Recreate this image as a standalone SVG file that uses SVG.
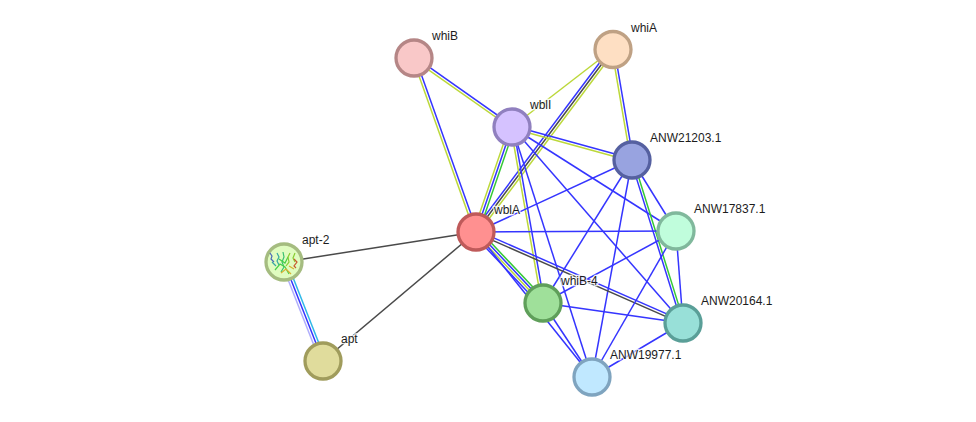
<svg xmlns="http://www.w3.org/2000/svg" width="976" height="422" viewBox="0 0 976 422">
<style>
  line { fill: none; stroke-width: 1.5; }
  .b { stroke: #3535ff; }
  .y { stroke: #bcd83a; }
  .g { stroke: #35c835; }
  .d { stroke: #4a4a4a; }
  .l { stroke: #b0aefc; }
  .c { stroke: #30b8e8; }
  .node { stroke-width: 3.3; }
  text { font-family: "Liberation Sans", Arial, sans-serif; font-size: 12px; fill: #1c1c1c; stroke: #ffffff; stroke-opacity: .8; stroke-width: 2.5px; paint-order: stroke; }
  .art { fill: none; stroke-width: 1.2; }
</style>
<rect width="976" height="422" fill="#ffffff"/>
<g id="connectors">
  <!-- whiB -->
  <line class="b" x1="414.75" y1="56.94" x2="512.75" y2="125.94"/>
  <line class="y" x1="413.25" y1="59.06" x2="511.25" y2="128.06"/>
  <line class="b" x1="415.22" y1="57.56" x2="477.22" y2="231.56"/>
  <line class="y" x1="412.78" y1="58.44" x2="474.78" y2="232.44"/>
  <!-- whiA -->
  <line class="y" x1="613" y1="49" x2="512" y2="127"/>
  <line class="b" x1="611" y1="47.5" x2="474" y2="230.5"/>
  <line class="d" x1="613" y1="49" x2="476" y2="232"/>
  <line class="y" x1="615" y1="50.5" x2="478" y2="233.5"/>
  <line class="b" x1="614.28" y1="48.78" x2="633.28" y2="159.78"/>
  <line class="y" x1="611.72" y1="49.22" x2="630.72" y2="160.22"/>
  <!-- wblI -->
  <line class="b" x1="512.34" y1="125.75" x2="632.34" y2="158.75"/>
  <line class="y" x1="511.66" y1="128.25" x2="631.66" y2="161.25"/>
  <line class="y" x1="509.5" y1="126.16" x2="473.5" y2="231.16"/>
  <line class="b" x1="512" y1="127" x2="476" y2="232"/>
  <line class="g" x1="514.5" y1="127.84" x2="478.5" y2="232.84"/>
  <line class="y" x1="510.72" y1="127.22" x2="541.72" y2="303.22"/>
  <line class="b" x1="513.28" y1="126.78" x2="544.28" y2="302.78"/>
  <line class="b" x1="512" y1="127" x2="592" y2="377"/>
  <line class="b" x1="512" y1="127" x2="676" y2="231"/>
  <line class="b" x1="512" y1="127" x2="683" y2="323"/>
  <!-- ANW21203.1 -->
  <line class="b" x1="632" y1="160" x2="476" y2="232"/>
  <line class="b" x1="632" y1="160" x2="676" y2="231"/>
  <line class="b" x1="630.85" y1="160.36" x2="681.85" y2="323.36"/>
  <line class="g" x1="633.15" y1="159.64" x2="684.15" y2="322.64"/>
  <line class="b" x1="632" y1="160" x2="543" y2="303"/>
  <line class="b" x1="632" y1="160" x2="592" y2="377"/>
  <!-- wblA -->
  <line class="b" x1="476" y1="232" x2="676" y2="231"/>
  <line class="g" x1="478.6" y1="229.53" x2="545.6" y2="300.53"/>
  <line class="b" x1="476.87" y1="231.18" x2="543.87" y2="302.18"/>
  <line class="y" x1="475.13" y1="232.82" x2="542.13" y2="303.82"/>
  <line class="b" x1="473.4" y1="234.47" x2="540.4" y2="305.47"/>
  <line class="b" x1="476" y1="232" x2="592" y2="377"/>
  <line class="b" x1="476.72" y1="230.35" x2="683.72" y2="321.35"/>
  <line class="d" x1="475.6" y1="232.9" x2="682.6" y2="323.9"/>
  <line class="d" x1="476" y1="232" x2="284" y2="262"/>
  <line class="d" x1="476" y1="232" x2="323" y2="361"/>
  <!-- ANW17837.1 -->
  <line class="b" x1="676" y1="231" x2="543" y2="303"/>
  <line class="b" x1="676" y1="231" x2="592" y2="377"/>
  <line class="b" x1="676" y1="231" x2="683" y2="323"/>
  <!-- whiB-4 and ANW20164.1 -->
  <line class="b" x1="543" y1="303" x2="683" y2="323"/>
  <line class="b" x1="543" y1="303" x2="592" y2="377"/>
  <line class="b" x1="683" y1="323" x2="592" y2="377"/>
  <!-- apt-2 to apt -->
  <line class="l" x1="281.5" y1="263" x2="320.5" y2="362"/>
  <line class="b" x1="284" y1="262" x2="323" y2="361"/>
  <line class="c" x1="286.5" y1="261" x2="325.5" y2="360"/>
</g>
<g id="whiB">
  <circle class="node" cx="414" cy="58" r="18" fill="#f9c8c8" stroke="#b58686"/>
  <text x="432" y="40">whiB</text>
</g>
<g id="whiA">
  <circle class="node" cx="613" cy="49.5" r="18" fill="#fedfc3" stroke="#bfa184"/>
  <text x="631" y="32">whiA</text>
</g>
<g id="wblI">
  <circle class="node" cx="512" cy="127" r="18" fill="#d5c2ff" stroke="#9080bf"/>
  <text x="530" y="109">wblI</text>
</g>
<g id="ANW21203.1">
  <circle class="node" cx="632" cy="160" r="18" fill="#98a3e0" stroke="#5560a0"/>
  <text x="650" y="142">ANW21203.1</text>
</g>
<g id="wblA">
  <circle class="node" cx="476" cy="232" r="18" fill="#ff9090" stroke="#bf5a5a"/>
  <text x="494" y="214">wblA</text>
</g>
<g id="ANW17837.1">
  <circle class="node" cx="676" cy="231" r="18" fill="#c0fddc" stroke="#80b89c"/>
  <text x="694" y="213">ANW17837.1</text>
</g>
<g id="whiB-4">
  <circle class="node" cx="543" cy="303" r="18" fill="#9fe09a" stroke="#5f9f5a"/>
  <text x="561" y="285">whiB-4</text>
</g>
<g id="ANW20164.1">
  <circle class="node" cx="683" cy="323" r="18" fill="#98e0d8" stroke="#5a9f98"/>
  <text x="701" y="305">ANW20164.1</text>
</g>
<g id="ANW19977.1">
  <circle class="node" cx="592" cy="377" r="18" fill="#c0e8ff" stroke="#7fa4bf"/>
  <text x="610" y="359">ANW19977.1</text>
</g>
<g id="apt-2">
  <circle class="node" cx="284" cy="262" r="18" fill="#e0fcc0" stroke="#a5bc80"/>
  <!-- small ribbon sketch of the protein structure -->
  <path class="art" stroke="#4a68b8" d="M270 253l2 3-1 3 3 3"/>
  <path class="art" stroke="#38a8a0" d="M277 253l2 4-2 4 2 4M272 262l4 4"/>
  <path class="art" stroke="#38c070" d="M283 252l1 5-2 5 2 5-3 5"/>
  <path class="art" stroke="#48d048" d="M275 270l5-6 5 3 4 7M279 259l6 4 3-6"/>
  <path class="art" stroke="#88cc30" d="M290 253l-2 4 1 5-3 4M295 253l-2 5 2 4"/>
  <path class="art" stroke="#d8b030" d="M281 273l5-4 5 5M289 266l5 3"/>
  <path class="art" stroke="#c85830" d="M294 259l3 3-3 4 2 2"/>
  <text x="302" y="244">apt-2</text>
</g>
<g id="apt">
  <circle class="node" cx="323" cy="361" r="18" fill="#e0dc9c" stroke="#a09c5c"/>
  <text x="341" y="343">apt</text>
</g>
</svg>
